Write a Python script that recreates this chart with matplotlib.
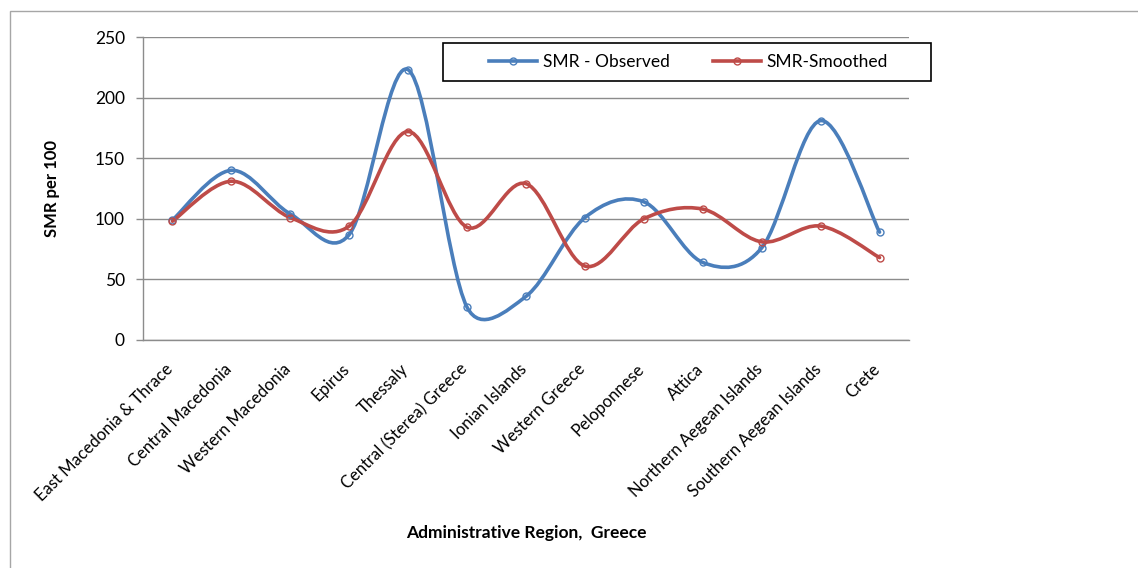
import numpy as np
import matplotlib.pyplot as plt
from matplotlib.path import Path
from matplotlib.patches import PathPatch, Rectangle
from matplotlib.lines import Line2D
import matplotlib.transforms as mtransforms

plt.rcParams['font.family'] = ['Lato', 'DejaVu Sans']

regions = ['East Macedonia & Thrace', 'Central Macedonia', 'Western Macedonia',
           'Epirus', 'Thessaly', 'Central (Sterea) Greece', 'Ionian Islands',
           'Western Greece', 'Peloponnese', 'Attica', 'Northern Aegean Islands',
           'Southern Aegean Islands', 'Crete']
smr_observed = [99, 140, 104, 87, 223, 27, 36, 101, 114, 64, 76, 181, 89]
smr_smoothed = [98, 131, 101, 94, 172, 93, 129, 61, 100, 108, 81, 94, 68]
yticks = [0, 50, 100, 150, 200, 250]

blue = '#4a7ebb'
red = '#be4b48'
grid_col = '#8c8c8c'


def excel_smooth(ax, x, y):
    # bezier smoothing like excel's "smoothed line", done in pixel space
    P = ax.transData.transform(np.column_stack([x, y]))
    ext = np.vstack([P[0], P, P[-1]])
    verts = [P[0]]
    codes = [Path.MOVETO]
    for i in range(len(P) - 1):
        p0, p1, p2, p3 = ext[i], ext[i+1], ext[i+2], ext[i+3]
        d12 = np.hypot(*(p2 - p1))
        v1 = (p2 - p0) / 6
        v2 = (p3 - p1) / 6
        n1 = np.hypot(*v1)
        n2 = np.hypot(*v2)
        if n1 > d12 / 2:
            v1 = v1 * (d12 / 2) / n1
        if n2 > d12 / 2:
            v2 = v2 * (d12 / 2) / n2
        verts += [p1 + v1, p2 - v2, p2]
        codes += [Path.CURVE4] * 3
    verts = ax.transData.inverted().transform(np.array(verts))
    return Path(verts, codes)


fig = plt.figure(figsize=(11.38, 5.68), dpi=100)
ax = fig.add_axes([143/1138, 1 - 340/568, 766/1138, 303/568])

x = np.arange(len(regions))
ax.set_xlim(-0.5, len(regions) - 0.5)
ax.set_ylim(0, 250)

ax.set_yticks(yticks)
ax.yaxis.grid(True, color=grid_col, lw=1.0)
ax.set_axisbelow(True)
ax.tick_params(axis='y', length=5, width=1.0, color=grid_col, labelsize=12.5, pad=8)
ax.tick_params(axis='x', length=0, labelsize=12, pad=19)
for s in ['top', 'right']:
    ax.spines[s].set_visible(False)
for s in ['left', 'bottom']:
    ax.spines[s].set_color(grid_col)
    ax.spines[s].set_linewidth(1.0)

ax.set_xticks(x)
ax.set_xticklabels(regions, rotation=45, ha='right', va='center', rotation_mode='anchor')
off = mtransforms.ScaledTranslation(-2/100, 0, fig.dpi_scale_trans)
for lab in ax.get_xticklabels():
    lab.set_transform(lab.get_transform() + off)

for vals, col in [(smr_observed, blue), (smr_smoothed, red)]:
    path = excel_smooth(ax, x, vals)
    ax.add_patch(PathPatch(path, facecolor='none', edgecolor=col, lw=2.6,
                           capstyle='round', joinstyle='round', zorder=3))
    ax.plot(x, vals, linestyle='none', marker='o', ms=5, mfc='none',
            mec=col, mew=1.0, zorder=4)

ax.set_ylabel('SMR per 100', fontsize=12, fontweight='bold')
ax.yaxis.label.set_va('center')
ax.yaxis.set_label_coords(-0.119, 0.5)
ax.set_xlabel('Administrative Region,  Greece', fontsize=12.5, fontweight='bold')
ax.xaxis.label.set_va('center')
ax.xaxis.set_label_coords(0.5, -0.637)

# legend
handles = [Line2D([], [], color=blue, lw=2.6, marker='o', ms=5, mfc='none', mec=blue),
           Line2D([], [], color=red, lw=2.6, marker='o', ms=5, mfc='none', mec=red)]
ax.add_patch(Rectangle((0.391, 0.855), 0.638, 0.126, transform=ax.transAxes,
                       facecolor='white', edgecolor='black', lw=1.2,
                       clip_on=False, zorder=5))
leg = ax.legend(handles, ['SMR - Observed', 'SMR-Smoothed'], ncol=2,
                loc='center', bbox_to_anchor=(0.712, 0.917), frameon=False,
                fontsize=12.5, handlelength=2.8, handletextpad=0.3,
                columnspacing=2.5)
leg.set_zorder(6)

# outer chart border
fig.add_artist(Rectangle((9.5/1138, -0.1), 1.2, (568 - 11.5)/568 + 0.1,
                         transform=fig.transFigure, facecolor='none',
                         edgecolor='#a6a6a6', lw=1.0))

fig.savefig('out.png', dpi=100)
